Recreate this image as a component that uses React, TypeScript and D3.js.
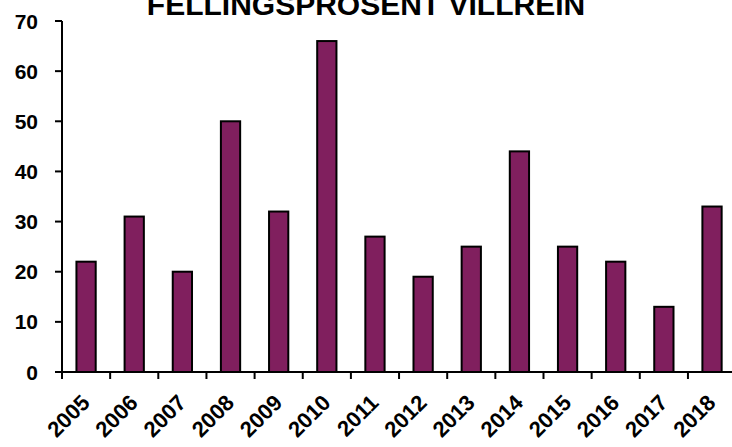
import React from 'react';
import * as d3 from 'd3';

const years = ['2005', '2006', '2007', '2008', '2009', '2010', '2011', '2012', '2013', '2014', '2015', '2016', '2017', '2018'];
const values = [22, 31, 20, 50, 32, 66, 27, 19, 25, 44, 25, 22, 13, 33];
const yTicks = [0, 10, 20, 30, 40, 50, 60, 70];
const title = 'FELLINGSPROSENT VILLREIN';

const W = 732;
const H = 447;

const App: React.FC = () => {
  const left = 62;
  const step = 48.15;
  const x = d3.scaleBand<string>()
    .domain(years)
    .range([left, left + step * years.length])
    .paddingInner(0.6)
    .paddingOuter(0.3);
  const y = d3.scaleLinear().domain([0, 70]).range([372, 21]);

  const font = '"Liberation Sans", Arial, sans-serif';
  const boundaries = d3.range(years.length).map(i => x.range()[0] + i * x.step());

  return (
    <svg width={W} height={H} style={{ position: 'absolute', left: 0, top: 0, background: '#fff' }} fontFamily={font}>
      {/* title, cut at the top edge as in the source */}
      <text x={366} y={15} textAnchor="middle" fontSize={30} fontWeight="bold" fill="#000">{title}</text>

      {/* bars */}
      {years.map((yr, i) => (
        <rect
          key={yr}
          x={x(yr)}
          y={y(values[i])}
          width={x.bandwidth()}
          height={y(0) - y(values[i])}
          fill="#801f5e"
          stroke="#000"
          strokeWidth={2}
        />
      ))}

      {/* y axis */}
      <line x1={left} x2={left} y1={y(70)} y2={y(0)} stroke="#000" strokeWidth={2} />
      {yTicks.map(t => (
        <g key={t}>
          <line x1={left - 7} x2={left} y1={y(t)} y2={y(t)} stroke="#000" strokeWidth={2} />
          <text x={38} y={y(t)} dy="0.36em" textAnchor="end" fontSize={21} fontWeight="bold" fill="#000">{t}</text>
        </g>
      ))}

      {/* x axis */}
      <line x1={left} x2={W} y1={y(0)} y2={y(0)} stroke="#000" strokeWidth={2} />
      {boundaries.map((bx, i) => (
        <line key={i} x1={bx} x2={bx} y1={y(0)} y2={y(0) + 7} stroke="#000" strokeWidth={2} />
      ))}
      {years.map(yr => {
        const cx = (x(yr) ?? 0) + x.bandwidth() / 2;
        return (
          <text
            key={yr}
            transform={`translate(${cx + 5},${404}) rotate(-45)`}
            textAnchor="end"
            fontSize={22}
            fontWeight="bold"
            fill="#000"
          >
            {yr}
          </text>
        );
      })}
    </svg>
  );
};

export default App;
